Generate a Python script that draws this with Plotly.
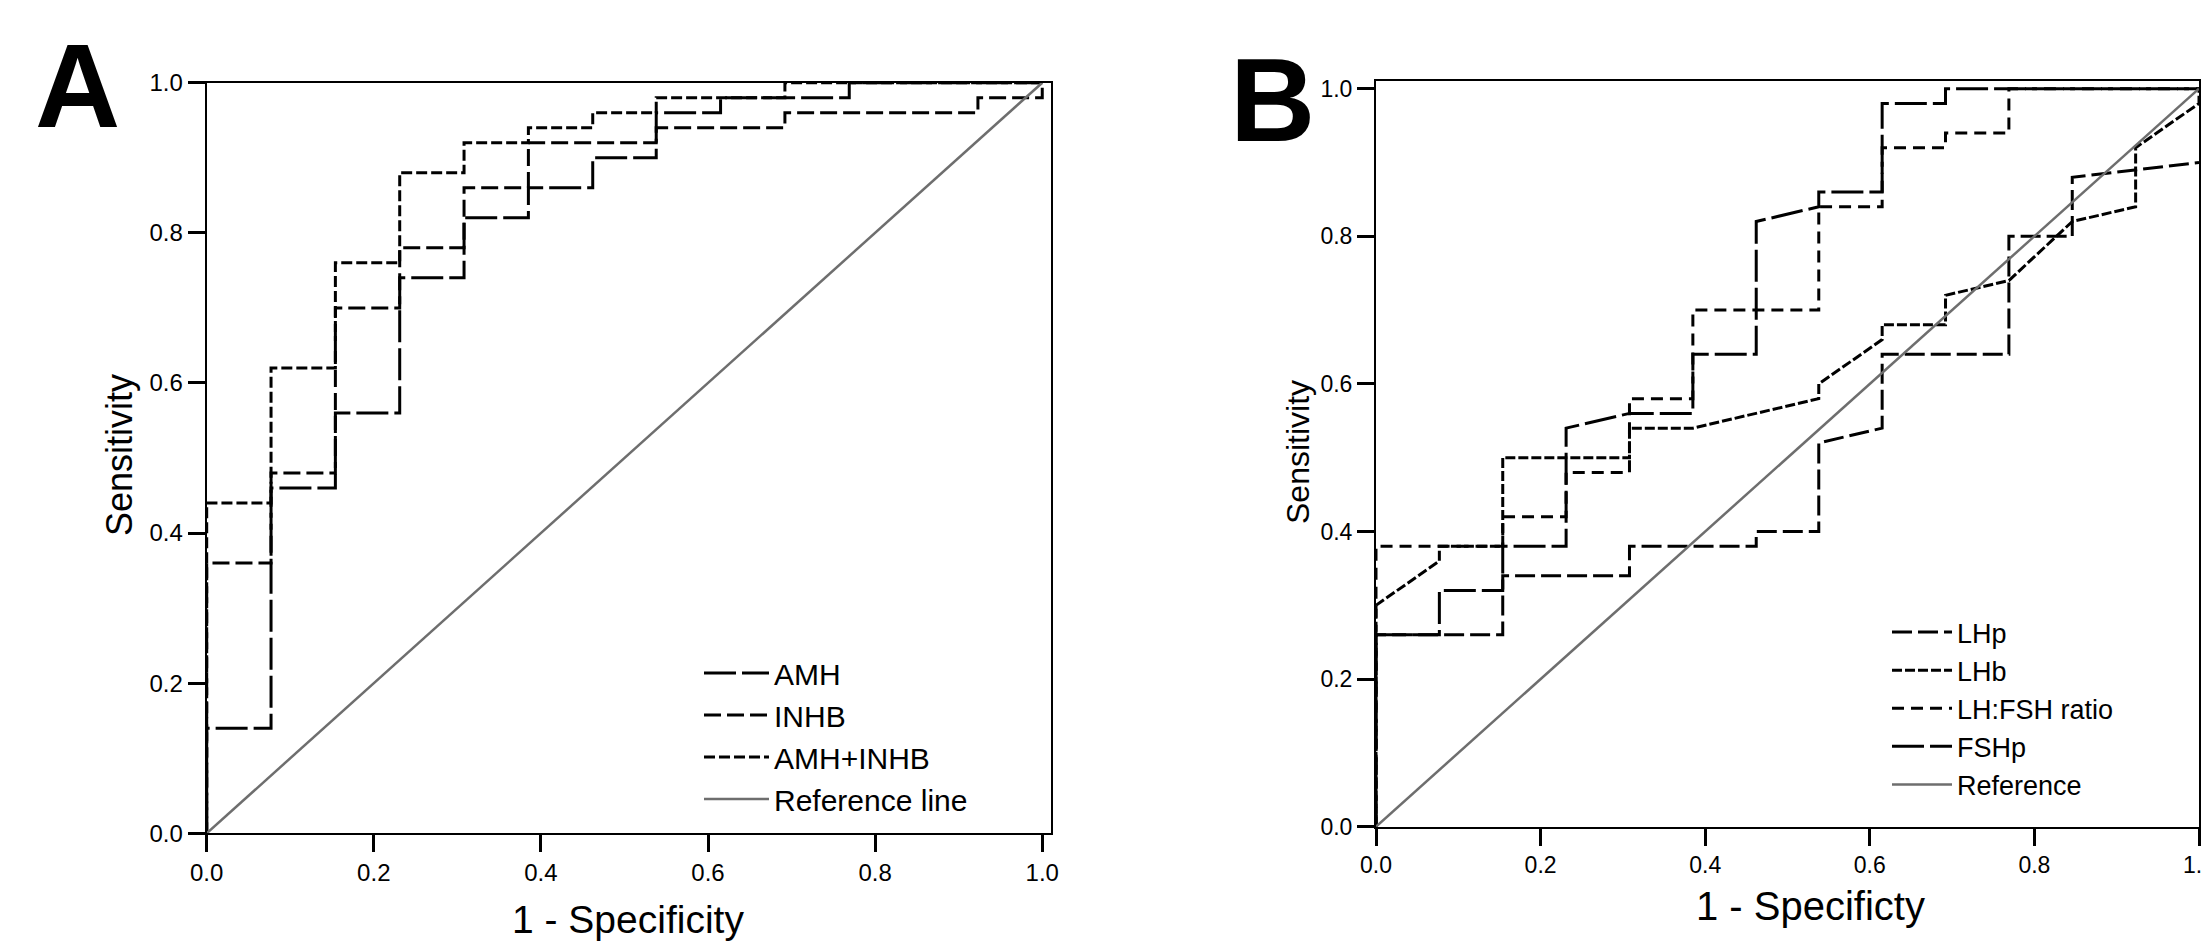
import plotly.graph_objects as go

# ---------------- Panel A data (ROC vertices: 1 - specificity, sensitivity) ----------------
amh_x = [0, 0, 0.077, 0.077, 0.154, 0.154, 0.231, 0.231, 0.308, 0.308, 0.385, 0.385,
         0.462, 0.462, 0.538, 0.538, 0.615, 0.615, 0.769, 0.769, 1.0]
amh_y = [0, 0.14, 0.14, 0.46, 0.46, 0.56, 0.56, 0.74, 0.74, 0.82, 0.82, 0.86,
         0.86, 0.90, 0.90, 0.96, 0.96, 0.98, 0.98, 1.0, 1.0]

inhb_x = [0, 0, 0.077, 0.077, 0.154, 0.154, 0.231, 0.231, 0.308, 0.308, 0.385, 0.385,
          0.538, 0.538, 0.692, 0.692, 0.923, 0.923, 1.0, 1.0]
inhb_y = [0, 0.36, 0.36, 0.48, 0.48, 0.70, 0.70, 0.78, 0.78, 0.86, 0.86, 0.92,
          0.92, 0.94, 0.94, 0.96, 0.96, 0.98, 0.98, 1.0]

comb_x = [0, 0, 0.077, 0.077, 0.154, 0.154, 0.231, 0.231, 0.308, 0.308, 0.385, 0.385,
          0.462, 0.462, 0.538, 0.538, 0.692, 0.692, 1.0]
comb_y = [0, 0.44, 0.44, 0.62, 0.62, 0.76, 0.76, 0.88, 0.88, 0.92, 0.92, 0.94,
          0.94, 0.96, 0.96, 0.98, 0.98, 1.0, 1.0]

ref_x = [0, 1.0]
ref_y = [0, 1.0]

# ---------------- Panel B data ----------------
lhp_x = [0, 0, 0.154, 0.154, 0.308, 0.308, 0.462, 0.462, 0.538, 0.538, 0.615, 0.615,
         0.769, 0.769, 0.846, 0.846, 1.0]
lhp_y = [0, 0.26, 0.26, 0.34, 0.34, 0.38, 0.38, 0.40, 0.40, 0.52, 0.54, 0.64,
         0.64, 0.80, 0.80, 0.88, 0.90]

lhb_x = [0, 0, 0.077, 0.077, 0.154, 0.154, 0.308, 0.308, 0.385, 0.538, 0.538, 0.615,
         0.615, 0.692, 0.692, 0.769, 0.846, 0.923, 0.923, 1.0, 1.0]
lhb_y = [0, 0.30, 0.36, 0.38, 0.38, 0.50, 0.50, 0.54, 0.54, 0.58, 0.60, 0.66,
         0.68, 0.68, 0.72, 0.74, 0.82, 0.84, 0.92, 0.98, 1.0]

ratio_x = [0, 0, 0.154, 0.154, 0.231, 0.231, 0.308, 0.308, 0.385, 0.385, 0.538, 0.538,
           0.615, 0.615, 0.692, 0.692, 0.769, 0.769, 1.0]
ratio_y = [0, 0.38, 0.38, 0.42, 0.42, 0.48, 0.48, 0.58, 0.58, 0.70, 0.70, 0.84,
           0.84, 0.92, 0.92, 0.94, 0.94, 1.0, 1.0]

fshp_x = [0, 0, 0.077, 0.077, 0.154, 0.154, 0.231, 0.231, 0.308, 0.385, 0.385, 0.462,
          0.462, 0.538, 0.538, 0.615, 0.615, 0.692, 0.692, 1.0]
fshp_y = [0, 0.26, 0.26, 0.32, 0.32, 0.38, 0.38, 0.54, 0.56, 0.56, 0.64, 0.64,
          0.82, 0.84, 0.86, 0.86, 0.98, 0.98, 1.0, 1.0]

tick_vals = [0.0, 0.2, 0.4, 0.6, 0.8, 1.0]
tick_text = ["0.0", "0.2", "0.4", "0.6", "0.8", "1.0"]

# The page body has an 8 px default margin, so the figure is made 8 px smaller
# and every screen position is converted with that offset.
OFF = 8
W, H = 2210 - OFF, 946 - OFF
FONT = "Liberation Sans, Arial, Helvetica, sans-serif"
BLACK = "#000000"
GREY = "#6e6e6e"

fig = go.Figure()

def add(x, y, name, dash, color=BLACK, width=3, xa="x", ya="y", legend="legend"):
    fig.add_trace(go.Scatter(x=x, y=y, mode="lines", name=name, xaxis=xa, yaxis=ya,
                             legend=legend,
                             line=dict(color=color, width=width, dash=dash),
                             hoverinfo="skip"))

add(amh_x, amh_y, "AMH", "32px,6px")
add(inhb_x, inhb_y, "INHB", "17px,6px")
add(comb_x, comb_y, "AMH+INHB", "11px,4px")
add(ref_x, ref_y, "Reference line", "solid", color=GREY, width=2.5)

add(lhp_x, lhp_y, "LHp", "20px,6px", xa="x2", ya="y2", legend="legend2")
add(lhb_x, lhb_y, "LHb", "10px,3px", xa="x2", ya="y2", legend="legend2")
add(ratio_x, ratio_y, "LH:FSH ratio", "12px,7px", xa="x2", ya="y2", legend="legend2")
add(fshp_x, fshp_y, "FSHp", "32px,6px", xa="x2", ya="y2", legend="legend2")
add(ref_x, ref_y, "Reference", "solid", color=GREY, width=2.5, xa="x2", ya="y2", legend="legend2")

def px_x(p):
    return (p - OFF) / W

def px_y(p):
    return 1 - (p - OFF) / H

def axis(domain, rng, fsize):
    return dict(domain=domain, range=rng, tickvals=tick_vals, ticktext=tick_text,
                ticks="outside", ticklen=17, tickwidth=2.5, tickcolor=BLACK,
                showline=True, linecolor=BLACK, linewidth=2, mirror=True,
                showgrid=False, zeroline=False, fixedrange=True, automargin=False,
                ticklabeloverflow="allow",
                tickfont=dict(family=FONT, size=fsize, color=BLACK))

fig.update_layout(
    template="none",
    width=W, height=H,
    margin=dict(l=0, r=0, t=0, b=0, pad=0, autoexpand=False),
    paper_bgcolor="white", plot_bgcolor="white",
    xaxis=dict(axis([px_x(206.7), px_x(1050.7)], [0, 1.0101], 24), anchor="y"),
    yaxis=dict(axis([px_y(833.3), px_y(82.7)], [0, 1.0], 24), anchor="x"),
    xaxis2=dict(axis([px_x(1376), px_x(2199)], [0, 1.0], 23), anchor="y2"),
    yaxis2=dict(axis([px_y(826.7), px_y(80.7)], [0, 1.0108], 23), anchor="x2"),
    legend=dict(x=px_x(699), y=px_y(647), xanchor="left", yanchor="top",
                bgcolor="rgba(0,0,0,0)", borderwidth=0,
                font=dict(family=FONT, size=30, color=BLACK),
                itemwidth=65, tracegroupgap=0),
    legend2=dict(x=px_x(1887), y=px_y(608), xanchor="left", yanchor="top",
                 bgcolor="rgba(0,0,0,0)", borderwidth=0,
                 font=dict(family=FONT, size=27, color=BLACK),
                 itemwidth=60, tracegroupgap=0),
    showlegend=True,
)

ann = [
    dict(text="<b>A</b>", x=px_x(77), y=px_y(86), font=dict(family=FONT, size=118, color=BLACK)),
    dict(text="<b>B</b>", x=px_x(1272), y=px_y(100), font=dict(family=FONT, size=118, color=BLACK)),
    dict(text="1 - Specificity", x=px_x(628), y=px_y(919), font=dict(family=FONT, size=39, color=BLACK)),
    dict(text="1 - Specificty", x=px_x(1810), y=px_y(906), font=dict(family=FONT, size=40, color=BLACK)),
    dict(text="Sensitivity", x=px_x(120), y=px_y(455), textangle=-90, font=dict(family=FONT, size=36, color=BLACK)),
    dict(text="Sensitivity", x=px_x(1298), y=px_y(452), textangle=-90, font=dict(family=FONT, size=32, color=BLACK)),
]
for a in ann:
    a.update(xref="paper", yref="paper", showarrow=False, xanchor="center", yanchor="middle")
fig.update_layout(annotations=ann)

fig.write_html("out.html")
